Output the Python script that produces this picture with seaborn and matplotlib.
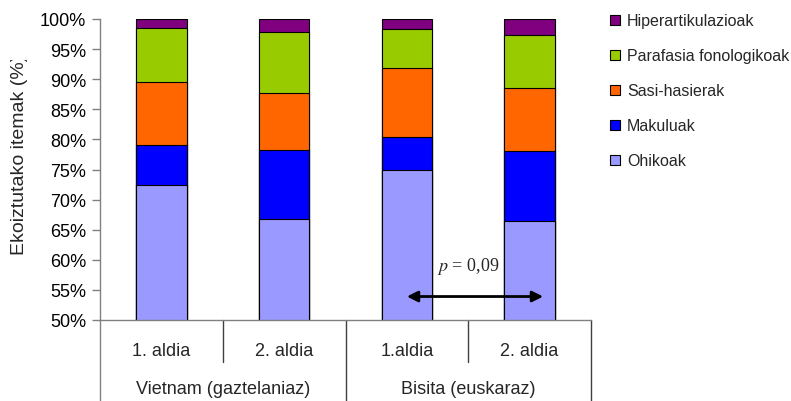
import matplotlib
matplotlib.use("Agg")
import matplotlib.pyplot as plt
from matplotlib.patches import Patch
from matplotlib.transforms import blended_transform_factory, Bbox
import numpy as np
import pandas as pd
import seaborn as sns

# Sessions (inner level) and groups (outer level) of the x axis
groups = ["Vietnam (gaztelaniaz)", "Bisita (euskaraz)"]
sessions = ["1. aldia", "2. aldia", "1.aldia", "2. aldia"]
session_group = [0, 0, 1, 1]

# Share of produced items per type (%), bottom to top of each stack
categories = ["Ohikoak", "Makuluak", "Sasi-hasierak",
              "Parafasia fonologikoak", "Hiperartikulazioak"]
ohikoak = [72.4, 66.7, 75.0, 66.4]
makuluak = [6.7, 11.5, 5.4, 11.6]
sasi_hasierak = [10.4, 9.5, 11.4, 10.5]
parafasia = [9.0, 10.2, 6.5, 8.9]
hiperartikulazioak = [1.5, 2.1, 1.7, 2.6]

colors = ["#9999FF", "#0000FF", "#FF6600", "#99CC00", "#800080"]

yticks = list(range(50, 101, 5))
p_label = "0,09"

sns.set_theme(style="white")
plt.rcParams["font.family"] = ["Liberation Sans", "DejaVu Sans"]
plt.rcParams["mathtext.fontset"] = "stix"

keys = [f"{groups[g]} | {s}" for g, s in zip(session_group, sessions)]
values = np.array([ohikoak, makuluak, sasi_hasierak, parafasia, hiperartikulazioak])
cum = np.cumsum(values, axis=0)

rows = []
for ci, cat in enumerate(categories):
    for k, v in zip(keys, cum[ci]):
        rows.append({"key": k, "category": cat, "top": v})
df = pd.DataFrame(rows)

W, H = 791, 402
fig = plt.figure(figsize=(W / 100, H / 100), dpi=100)
ax = fig.add_axes([100 / W, 81 / H, 491 / W, 301 / H])

# Stacked bars: draw cumulative heights from the tallest layer down
for ci in range(len(categories) - 1, -1, -1):
    sub = df[df["category"] == categories[ci]]
    sns.barplot(data=sub, x="key", y="top", order=keys, color=colors[ci],
                saturation=1, width=0.41, edgecolor="black", linewidth=0.8,
                ax=ax)

ax.set_xlim(-0.5, len(keys) - 0.5)
ax.set_ylim(50, 100)
ax.set_yticks(yticks)
ax.set_yticklabels([f"{t}%" for t in yticks], fontsize=13)
ax.set_xticks([])
ax.set_xlabel("")
ax.set_ylabel("")
for side in ["top", "right"]:
    ax.spines[side].set_visible(False)
for side in ["left", "bottom"]:
    ax.spines[side].set_color("#808080")
    ax.spines[side].set_linewidth(1.0)
ax.tick_params(axis="y", direction="out", length=6, width=1.0,
               color="#808080", left=True, pad=4, labelcolor="black")

# Y label, clipped at its top end
ylab = fig.text(20 / W, 1 - 155 / H, "Ekoiztutako itemak (%)", rotation=90,
                ha="center", va="center", fontsize=14)
ylab.set_clip_box(Bbox.from_extents(0, 0, W, H - 61))
ylab.set_clip_on(True)

# Two-level category axis
tr = blended_transform_factory(ax.transData, fig.transFigure)
for i, s in enumerate(sessions):
    ax.text(i, 1 - 352 / H, s, transform=tr, ha="center", va="center",
            fontsize=13, clip_on=False)
for g, name in enumerate(groups):
    idx = [i for i, sg in enumerate(session_group) if sg == g]
    ax.text(np.mean(idx), 1 - 390 / H, name, transform=tr, ha="center",
            va="center", fontsize=13, clip_on=False)

y_axis = 1 - 321 / H
for x in [0.5, 2.5]:
    ax.plot([x, x], [y_axis, 1 - 363 / H], transform=tr, color="#404040",
            lw=1.0, clip_on=False)
for x in [-0.5, 1.5, 3.5]:
    ax.plot([x, x], [y_axis, 0], transform=tr,
            color="#808080" if x == -0.5 else "#404040", lw=1.0, clip_on=False)

# Significance annotation between the two Bisita sessions
ax.annotate("", xy=(2.0, 53.9), xytext=(3.11, 53.9),
            arrowprops=dict(arrowstyle="<|-|>", color="black", lw=2,
                            mutation_scale=16, shrinkA=0, shrinkB=0))
ax.text(2.5, 59.1, f"$p$ = {p_label}", ha="center", va="center",
        fontsize=13, family="Liberation Serif")

handles = [Patch(facecolor=colors[i], edgecolor="black", linewidth=0.8,
                 label=categories[i]) for i in range(len(categories) - 1, -1, -1)]
fig.legend(handles=handles, loc="upper left",
           bbox_to_anchor=(604 / W, 1 - 8 / H), frameon=False,
           fontsize=11.5, handlelength=0.6, handleheight=0.6,
           handletextpad=0.45, labelspacing=1.25, borderaxespad=0)

fig.savefig("out.png", dpi=100)
